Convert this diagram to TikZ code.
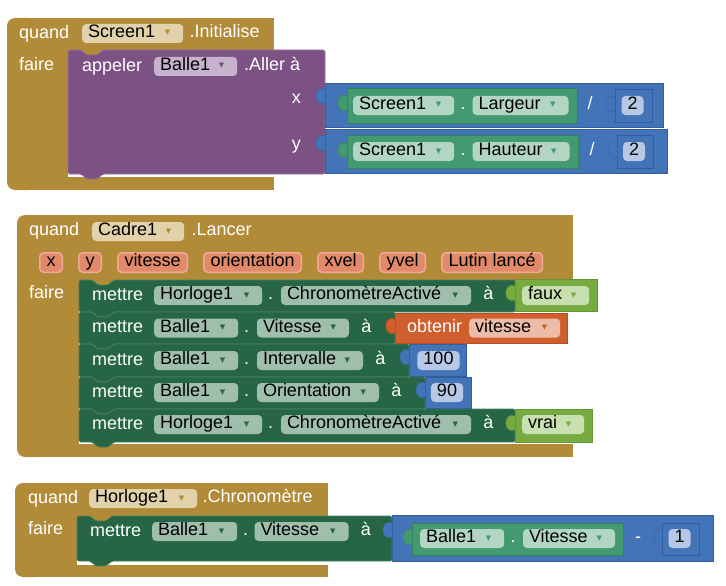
\documentclass[tikz,border=0pt]{standalone}
\usepackage{fontspec}
\setmainfont{Liberation Sans}
\newfontfamily\symfont{DejaVu Sans}
\usepackage{tikz}
\usetikzlibrary{positioning}
\definecolor{ctrl}{RGB}{177,139,56}
\definecolor{ctrlfield}{RGB}{225,210,172}
\definecolor{call}{RGB}{124,82,133}
\definecolor{callfield}{RGB}{198,178,204}
\definecolor{callline}{RGB}{150,112,160}
\definecolor{math}{RGB}{68,116,184}
\definecolor{mathline}{RGB}{50,94,160}
\definecolor{numfield}{RGB}{182,200,229}
\definecolor{getc}{RGB}{67,153,112}
\definecolor{getfield}{RGB}{178,214,195}
\definecolor{getline}{RGB}{52,128,92}
\definecolor{setc}{RGB}{38,102,68}
\definecolor{setfield}{RGB}{160,190,172}
\definecolor{setline}{RGB}{72,130,98}
\definecolor{logic}{RGB}{119,171,65}
\definecolor{logicfield}{RGB}{200,224,176}
\definecolor{logicline}{RGB}{98,150,50}
\definecolor{var}{RGB}{208,95,45}
\definecolor{varfield}{RGB}{237,188,166}
\definecolor{varline}{RGB}{180,80,35}
\definecolor{par}{RGB}{226,137,106}
\definecolor{parline}{RGB}{238,172,152}
\tikzset{lbl/.style={text=white,inner sep=0pt,anchor=west,text height=12pt,text depth=4pt},
  field/.style={rounded corners=4pt,inner xsep=6pt,inner ysep=0pt,minimum height=19pt,anchor=west,text=black,text height=12pt,text depth=4pt,align=left},
  pill/.style={rounded corners=4pt,inner xsep=6pt,inner ysep=0pt,minimum height=19pt,text=black,text height=12pt,text depth=4pt,fill=numfield},
  param/.style={rounded corners=4pt,inner xsep=6.75pt,inner ysep=0pt,minimum height=19.5pt,anchor=west,text height=12pt,text depth=4pt,fill=par,draw=parline,line width=1.5pt},
  mathblk/.style={fill=math,draw=mathline,line width=0.7pt},
  getblk/.style={fill=getc,draw=getline,line width=0.7pt},
  logicblk/.style={fill=logic,draw=logicline,line width=0.7pt},
  varblk/.style={fill=var,draw=varline,line width=0.7pt},}
% dropdown arrow at the right end of a field
\newcommand{\dd}[1]{\hfill\raisebox{2.5pt}{\color{#1}\symfont\fontsize{7}{7}\selectfont ▼}\kern7pt}
% puzzle tab on the left side of a value block
\newcommand{\knob}[3]{\filldraw[fill=#3,draw=#3!88!black,line width=0.6pt] (#1,#2) .. controls +(-6,-2) and +(0,-5) .. ++(-9,7) .. controls +(0,5) and +(-6,2) .. ++(9,7);}
% statement block with notch on top and tab below
\newcommand{\stmt}[6]{\filldraw[fill=#5,draw=#6,line width=0.7pt,rounded corners=1.5pt] (#1,#2) -- (#1+13,#2) -- (#1+19,#2+5) -- (#1+29,#2+5) -- (#1+35,#2) -- (#3,#2) -- (#3,#4) -- (#1+35,#4) -- (#1+29,#4+5) -- (#1+19,#4+5) -- (#1+13,#4) -- (#1,#4) -- cycle;}
% event block: left, top, right, input top, input left, bar top, bottom
\newcommand{\evt}[7]{\fill[ctrl,rounded corners=8pt] (#1,#2) rectangle (#1+30,#7);
  \fill[ctrl] (#1+12,#2) rectangle (#3,#4+6);
  \fill[ctrl] (#1+12,#2) rectangle (#5,#7);
  \fill[ctrl] (#1+12,#6) rectangle (#3,#7);}

\begin{document}
\begin{tikzpicture}[x=1pt, y=-1pt, font=\fontsize{18}{22}\selectfont]
	\useasboundingbox (0,0) rectangle (726,586);

	% quand Screen1.Initialise
	\evt{7}{18}{274}{50}{68}{177}{190}
	\node[lbl] (q1) at (19,34.5) {quand};
	\node[field, fill=ctrlfield, text width=89pt] (s1) at (82,33.5) {Screen1\dd{ctrl}};
	\node[lbl, right=6pt of s1] (i1) {.Initialise};
	\node[lbl] (f1) at (19,66.5) {faire};
	\stmt{68}{50}{325}{174}{call}{callline}
	\node[lbl] (ap) at (82,67) {appeler};
	\node[field, fill=callfield, text width=71pt] (b1) at (154,66.5) {Balle1\dd{call}};
	\node[lbl, right=6.5pt of b1] (al) {.Aller à};
	\node[lbl, anchor=east] (ax) at (301,99.5) {x};
	\node[lbl, anchor=east] (ay) at (301,145.5) {y};

	\filldraw[mathblk] (325,83) rectangle (663,127);
	\knob{325}{89}{math}
	\filldraw[getblk] (347,88) rectangle (577,123);
	\knob{347}{96}{getc}
	\node[field, fill=getfield, text width=89pt] (s2) at (353,105.5) {Screen1\dd{getc}};
	\node[lbl, right=6pt of s2] (d2) {.};
	\node[field, fill=getfield, text width=84pt, right=6.5pt of d2] (lg) {Largeur\dd{getc}};
	\node[lbl, anchor=center] (dv1) at (590,105.5) {/};
	\filldraw[mathblk] (615,89) rectangle (652,122);
	\knob{615}{97}{math}
	\node[pill] (n1) at (632.5,105.5) {2};

	\filldraw[mathblk] (325,129) rectangle (667,173);
	\knob{325}{136}{math}
	\filldraw[getblk] (347,135) rectangle (578,168);
	\knob{347}{143}{getc}
	\node[field, fill=getfield, text width=89pt] (s3) at (353,151.5) {Screen1\dd{getc}};
	\node[lbl, right=6pt of s3] (d3) {.};
	\node[field, fill=getfield, text width=85pt, right=6.5pt of d3] (ht) {Hauteur\dd{getc}};
	\node[lbl, anchor=center] (dv2) at (592,151.5) {/};
	\filldraw[mathblk] (617,135) rectangle (653,168);
	\knob{617}{143}{math}
	\node[pill] (n2) at (634,151.5) {2};

	% quand Cadre1.Lancer
	\evt{17}{215}{573}{280}{79}{444}{457}
	\node[lbl] (q2) at (29,231.5) {quand};
	\node[field, fill=ctrlfield, text width=80pt] (c2) at (92,231.5) {Cadre1\dd{ctrl}};
	\node[lbl, right=7pt of c2] (la) {.Lancer};
	\node[param] (px) at (39,262.5) {x};
	\node[param, right=15pt of px] (py) {y};
	\node[param, right=15pt of py] (pv) {vitesse};
	\node[param, right=15pt of pv] (po) {orientation};
	\node[param, right=15pt of po] (pxv) {xvel};
	\node[param, right=15pt of pxv] (pyv) {yvel};
	\node[param, right=15pt of pyv] (pl) {Lutin lancé};
	\node[lbl] (f2) at (29,294) {faire};

	\stmt{79}{280}{515}{312}{setc}{setline}
	\stmt{79}{312}{395}{344}{setc}{setline}
	\stmt{79}{344}{409}{377}{setc}{setline}
	\stmt{79}{377}{425}{409}{setc}{setline}
	\stmt{79}{409}{515}{442}{setc}{setline}

	\node[lbl] (m1) at (92,296) {mettre};
	\node[field, fill=setfield, text width=96pt] (h1) at (154,295.5) {Horloge1\dd{setc}};
	\node[lbl, right=5.5pt of h1] (e1) {.};
	\node[field, fill=setfield, text width=178pt, right=7.5pt of e1] (ca1) {ChronomètreActivé\dd{setc}};
	\node[lbl, right=12pt of ca1] (to1) {à};
	\filldraw[logicblk] (515,279) rectangle (597,311);
	\knob{515}{286}{logic}
	\node[field, fill=logicfield, text width=55pt] (fx) at (522,295.5) {faux\dd{logic}};

	\node[lbl] (m2) at (92,328.5) {mettre};
	\node[field, fill=setfield, text width=72pt] (b2) at (154,328) {Balle1\dd{setc}};
	\node[lbl, right=5.5pt of b2] (e2) {.};
	\node[field, fill=setfield, text width=80pt, right=7.5pt of e2] (vi2) {Vitesse\dd{setc}};
	\node[lbl, right=12pt of vi2] (to2) {à};
	\filldraw[varblk] (395,313) rectangle (567,343);
	\knob{395}{319}{var}
	\node[lbl] (ob) at (407,328.5) {obtenir};
	\node[field, fill=varfield, text width=79pt] (gv) at (469,328) {vitesse\dd{var}};

	\node[lbl] (m3) at (92,361) {mettre};
	\node[field, fill=setfield, text width=72pt] (b3) at (154,360.5) {Balle1\dd{setc}};
	\node[lbl, right=5.5pt of b3] (e3) {.};
	\node[field, fill=setfield, text width=94pt, right=7.5pt of e3] (iv) {Intervalle\dd{setc}};
	\node[lbl, right=12pt of iv] (to3) {à};
	\filldraw[mathblk] (409,344) rectangle (466,376);
	\knob{409}{350}{math}
	\node[pill] (n3) at (438.5,360.5) {100};

	\node[lbl] (m4) at (92,393) {mettre};
	\node[field, fill=setfield, text width=72pt] (b4) at (154,392.5) {Balle1\dd{setc}};
	\node[lbl, right=5.5pt of b4] (e4) {.};
	\node[field, fill=setfield, text width=110pt, right=7.5pt of e4] (or) {Orientation\dd{setc}};
	\node[lbl, right=12pt of or] (to4) {à};
	\filldraw[mathblk] (425,377) rectangle (471,408);
	\knob{425}{383}{math}
	\node[pill] (n4) at (447,392.5) {90};

	\node[lbl] (m5) at (92,425) {mettre};
	\node[field, fill=setfield, text width=96pt] (h5) at (154,424.5) {Horloge1\dd{setc}};
	\node[lbl, right=5.5pt of h5] (e5) {.};
	\node[field, fill=setfield, text width=178pt, right=7.5pt of e5] (ca5) {ChronomètreActivé\dd{setc}};
	\node[lbl, right=12pt of ca5] (to5) {à};
	\filldraw[logicblk] (515,409) rectangle (592,442);
	\knob{515}{416}{logic}
	\node[field, fill=logicfield, text width=50pt] (vr) at (522,424.5) {vrai\dd{logic}};

	% quand Horloge1.Chronomètre
	\evt{15}{483}{328}{516}{77}{565}{577}
	\node[lbl] (q3) at (28,499) {quand};
	\node[field, fill=ctrlfield, text width=96pt] (h3) at (89,498.5) {Horloge1\dd{ctrl}};
	\node[lbl, right=5pt of h3] (ch) {.Chronomètre};
	\node[lbl] (f3) at (28,530.5) {faire};
	\stmt{77}{516}{392}{561}{setc}{setline}
	\node[lbl] (m6) at (90,532) {mettre};
	\node[field, fill=setfield, text width=73pt] (b6) at (152,531.5) {Balle1\dd{setc}};
	\node[lbl, right=5.5pt of b6] (e6) {.};
	\node[field, fill=setfield, text width=82pt, right=6pt of e6] (vi6) {Vitesse\dd{setc}};
	\node[lbl, right=12pt of vi6] (to6) {à};

	\filldraw[mathblk] (392,515) rectangle (713,561);
	\knob{392}{523}{math}
	\filldraw[getblk] (412,523) rectangle (623,555);
	\knob{412}{530}{getc}
	\node[field, fill=getfield, text width=72pt] (b7) at (420,538.5) {Balle1\dd{getc}};
	\node[lbl, right=6pt of b7] (e7) {.};
	\node[field, fill=getfield, text width=80pt, right=7pt of e7] (vi7) {Vitesse\dd{getc}};
	\node[lbl, anchor=center] (mn) at (638,538.5) {-};
	\filldraw[mathblk] (662,523) rectangle (699,555);
	\knob{662}{530}{math}
	\node[pill] (n7) at (679.5,538.5) {1};
\end{tikzpicture}
\end{document}
